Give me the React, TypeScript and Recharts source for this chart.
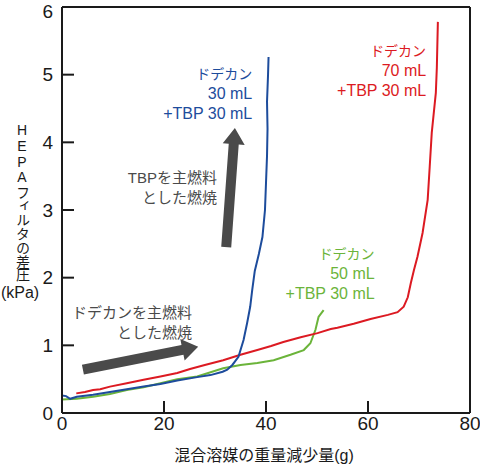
import React from 'react';
import { LineChart, Line, XAxis, YAxis, ReferenceLine } from 'recharts';

// ドデカン 30 mL + TBP 30 mL (blue)
const blueX = [0, 0.8, 1.6, 2.9, 6.1, 9.4, 12.7, 16, 19.3, 22.6, 26.5, 29.1, 31.5, 32.4, 33.4, 34.6, 35.6, 36.3, 36.9, 37.3, 37.8, 38.6, 39.3, 39.8, 40.0, 40.2, 40.3, 40.2, 40.4, 40.5];
const blueY = [0.26, 0.25, 0.21, 0.24, 0.27, 0.31, 0.35, 0.39, 0.43, 0.48, 0.53, 0.56, 0.61, 0.64, 0.71, 0.83, 1.08, 1.33, 1.57, 1.82, 2.1, 2.35, 2.6, 3.0, 3.4, 3.8, 4.2, 4.6, 5.0, 5.26];

// ドデカン 70 mL + TBP 30 mL (red)
const redX = [2.8, 4.5, 6.1, 7.5, 9.4, 12.7, 16, 19.3, 22.6, 25.1, 28, 31.6, 35, 38.3, 41, 43.4, 46.8, 50.1, 52.7, 54, 57.2, 60.5, 63.9, 65.8, 67, 67.8, 68.4, 69, 69.7, 70.7, 71.7, 72.1, 72.5, 73.3, 73.5, 73.7];
const redY = [0.29, 0.31, 0.34, 0.35, 0.39, 0.44, 0.49, 0.54, 0.59, 0.65, 0.71, 0.78, 0.86, 0.93, 0.99, 1.05, 1.12, 1.18, 1.24, 1.26, 1.32, 1.39, 1.45, 1.49, 1.57, 1.71, 1.92, 2.11, 2.31, 2.66, 3.15, 3.64, 4.14, 4.73, 5.11, 5.78];

// ドデカン 50 mL + TBP 30 mL (green)
const greenX = [0, 2.9, 6.1, 9.4, 12.7, 16, 19.3, 22.6, 26.5, 31.6, 35, 38.3, 41.5, 44.8, 47.4, 48.7, 49.7, 50.3, 51.3];
const greenY = [0.2, 0.21, 0.24, 0.28, 0.34, 0.38, 0.44, 0.5, 0.54, 0.66, 0.71, 0.74, 0.78, 0.86, 0.93, 1.03, 1.23, 1.42, 1.52];

const xTicks = [0, 20, 40, 60, 80];
const yTicks = [0, 1, 2, 3, 4, 5, 6];

const zip = (xs: number[], ys: number[]) => xs.map((x, i) => ({ x, y: ys[i] }));

const W = 480;
const H = 465;
const PLOT = { left: 62, right: 470, top: 7, bottom: 413 };
const px = (x: number) => PLOT.left + (x / 80) * (PLOT.right - PLOT.left);
const py = (y: number) => PLOT.bottom - (y / 6) * (PLOT.bottom - PLOT.top);

const FONT = "'Liberation Sans', Arial, 'Noto Sans CJK JP', sans-serif";
const AXIS = '#1a1a1a';
const RED = '#dc1a22';
const BLUE = '#1d4c9c';
const GREEN = '#6bb43a';
const GRAY = '#4a4a4a';

// thick block arrow, in data coords
function arrowPoints(x1: number, y1: number, x2: number, y2: number) {
  const ax = px(x1), ay = py(y1), bx = px(x2), by = py(y2);
  const dx = bx - ax, dy = by - ay;
  const len = Math.hypot(dx, dy);
  const ux = dx / len, uy = dy / len;
  const nx = -uy, ny = ux;
  const w = 5, hw = 11, hl = 16;
  const cx = bx - ux * hl, cy = by - uy * hl;
  const pts = [
    [ax + nx * w, ay + ny * w],
    [cx + nx * w, cy + ny * w],
    [cx + nx * hw, cy + ny * hw],
    [bx, by],
    [cx - nx * hw, cy - ny * hw],
    [cx - nx * w, cy - ny * w],
    [ax - nx * w, ay - ny * w],
  ];
  return pts.map((p) => p.join(',')).join(' ');
}

const Block = ({ lines, x, y, color, sizes }: { lines: string[]; x: number; y: number; color: string; sizes: number[] }) => (
  <g>
    {lines.map((t, i) => (
      <text key={i} x={px(x)} y={py(y) + i * 20} textAnchor="end" fill={color} fontSize={sizes[i]} fontFamily={FONT}>
        {t}
      </text>
    ))}
  </g>
);

export default function App() {
  return (
    <div style={{ position: 'absolute', left: 0, top: 0, width: W, height: H, background: '#fff' }}>
      <LineChart width={W} height={H} margin={{ top: 7, right: 10, bottom: 22, left: 0 }}>
        <XAxis
          dataKey="x"
          type="number"
          domain={[0, 80]}
          ticks={xTicks}
          height={30}
          tickSize={-12}
          tickMargin={16}
          stroke={AXIS}
          strokeWidth={2}
          tick={{ fontSize: 19, fill: AXIS, fontFamily: FONT }}
          allowDataOverflow
        />
        <YAxis
          type="number"
          domain={[0, 6]}
          ticks={yTicks}
          width={62}
          tickSize={-12}
          tickMargin={21}
          stroke={AXIS}
          strokeWidth={2}
          tick={{ fontSize: 19, fill: AXIS, fontFamily: FONT }}
          allowDataOverflow
        />
        <ReferenceLine y={6} stroke={AXIS} strokeWidth={2} />
        <ReferenceLine x={80} stroke={AXIS} strokeWidth={2} />
        <Line data={zip(greenX, greenY)} dataKey="y" type="linear" stroke={GREEN} strokeWidth={2} dot={false} isAnimationActive={false} />
        <Line data={zip(redX, redY)} dataKey="y" type="linear" stroke={RED} strokeWidth={2} dot={false} isAnimationActive={false} />
        <Line data={zip(blueX, blueY)} dataKey="y" type="linear" stroke={BLUE} strokeWidth={2} dot={false} isAnimationActive={false} />
      </LineChart>
      <svg width={W} height={H} style={{ position: 'absolute', left: 0, top: 0, pointerEvents: 'none' }}>
        <text
          x={22}
          y={122}
          fontSize={14}
          textLength={160}
          lengthAdjust="spacing"
          fill={AXIS}
          fontFamily={FONT}
          style={{ writingMode: 'vertical-rl', textOrientation: 'upright' } as React.CSSProperties}
        >
          HEPAフィルタの差圧
        </text>
        <text x={20} y={298} textAnchor="middle" fontSize={16} fill={AXIS} fontFamily={FONT}>(kPa)</text>
        <text x={264} y={461} textAnchor="middle" fontSize={16} fill={AXIS} fontFamily={FONT}>混合溶媒の重量減少量(g)</text>

        <polygon points={arrowPoints(4.1, 0.64, 26.7, 0.98)} fill={GRAY} />
        <polygon points={arrowPoints(32.2, 2.45, 33.9, 4.21)} fill={GRAY} />

        <Block lines={['ドデカン', '30 mL', '+TBP 30 mL']} x={37.3} y={4.94} color={BLUE} sizes={[14, 16, 16]} />
        <Block lines={['ドデカン', '70 mL', '+TBP 30 mL']} x={71.4} y={5.28} color={RED} sizes={[14, 16, 16]} />
        <Block lines={['ドデカン', '50 mL', '+TBP 30 mL']} x={61.3} y={2.27} color={GREEN} sizes={[14, 16, 16]} />
        <Block lines={['TBPを主燃料', 'とした燃焼']} x={30.4} y={3.4} color={GRAY} sizes={[15, 15]} />
        <Block lines={['ドデカンを主燃料', 'とした燃焼']} x={25.5} y={1.4} color={GRAY} sizes={[15, 15]} />
      </svg>
    </div>
  );
}
